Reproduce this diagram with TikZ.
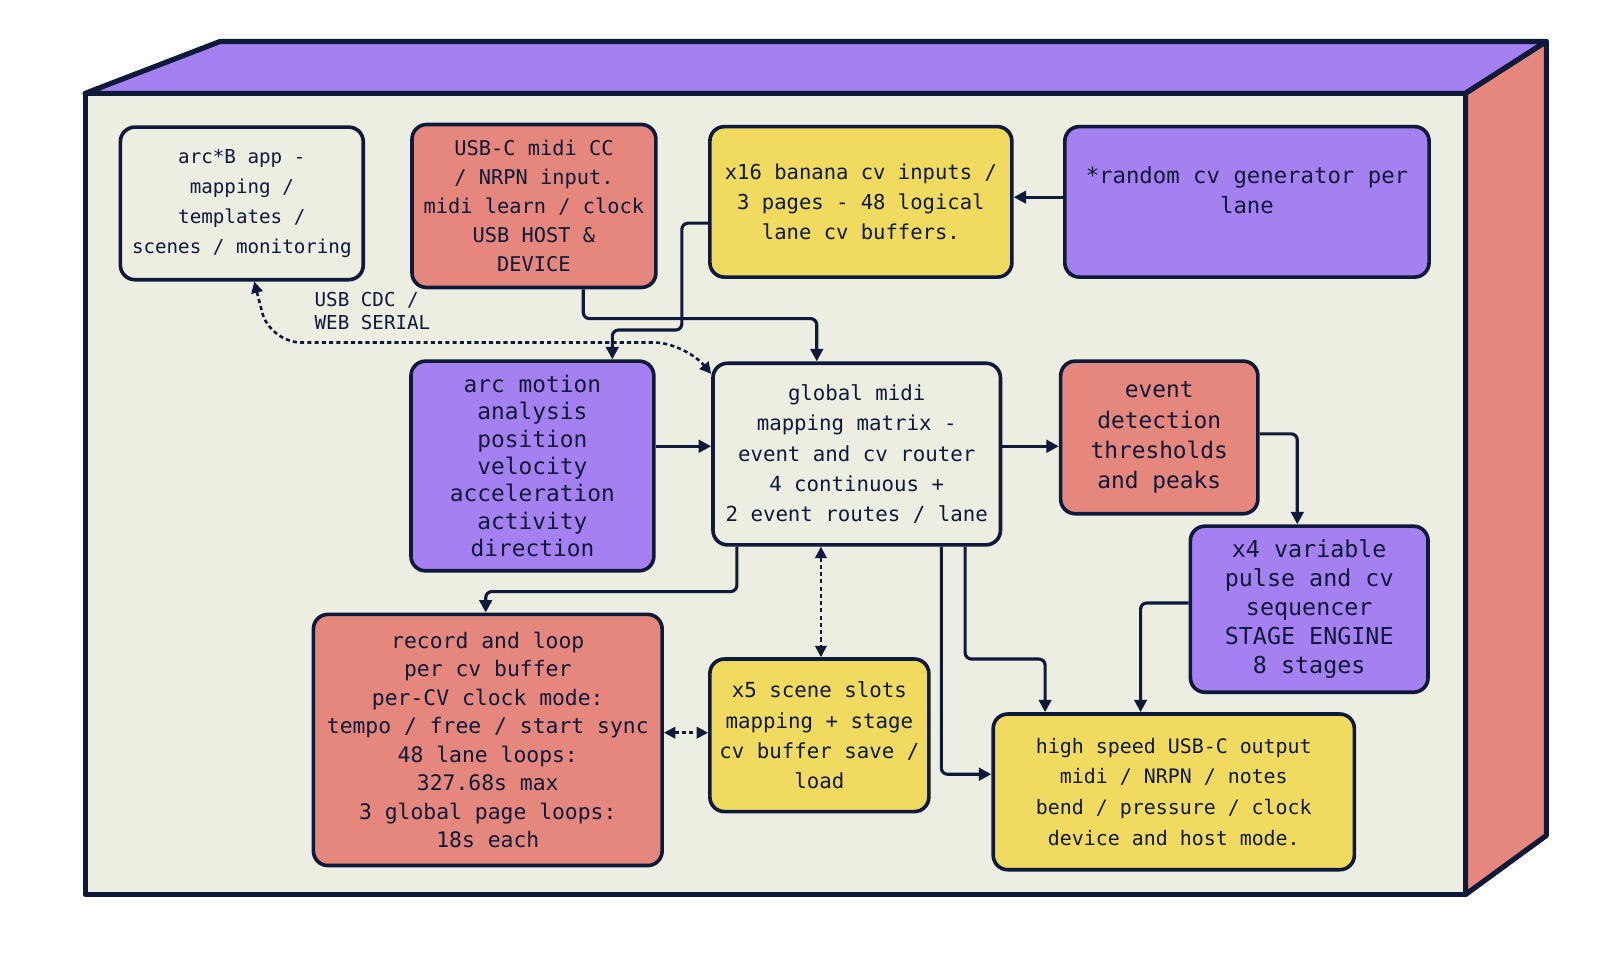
\documentclass[tikz,border=0pt]{standalone}
\usepackage{fontspec}
\setmainfont{DejaVu Sans Mono}
\usetikzlibrary{arrows.meta}
\definecolor{ink}{HTML}{0F1A3A}
\definecolor{bgc}{HTML}{ECEEE2}
\definecolor{pur}{HTML}{A580F0}
\definecolor{redc}{HTML}{E5877C}
\definecolor{yel}{HTML}{F0DA60}
\newcommand{\fs}[2]{\fontsize{#1}{#2}\selectfont}
\begin{document}
\begin{tikzpicture}[x=1pt,y=-1pt,
  box/.style={draw=ink,line width=3.5pt,rounded corners=14pt,align=center,inner sep=2pt,text=ink},
  arr/.style={draw=ink,line width=3pt,rounded corners=6pt,-{Triangle[length=12pt,width=12pt]}},
  darr/.style={draw=ink,line width=2.5pt,dash pattern=on 4pt off 3pt,{Triangle[length=11pt,width=11pt]}-{Triangle[length=11pt,width=11pt]}}]
\useasboundingbox (0,0) rectangle (1560,936);
% 3D box
\fill[pur,draw=ink,line width=5pt,line join=round] (82,90) -- (212,40) -- (1490,40) -- (1412,90) -- cycle;
\fill[redc,draw=ink,line width=5pt,line join=round] (1412,90) -- (1490,40) -- (1490,805) -- (1412,862) -- cycle;
\fill[bgc,draw=ink,line width=5pt,line join=round] (82,90) rectangle (1412,862);
% nodes
\node[box,fill=bgc,minimum width=234pt,minimum height=147pt,font=\fs{18.5}{29}] (app) at (233,196) {arc*B app -\\mapping /\\templates /\\scenes / monitoring};
\node[box,fill=redc,minimum width=235pt,minimum height=157pt,font=\fs{19.6}{28}] (usbc) at (514.5,198.5) {USB-C midi CC\\/ NRPN input.\\midi learn / clock\\USB HOST \&\\DEVICE};
\node[box,fill=yel,minimum width=291pt,minimum height=145pt,font=\fs{19.8}{29}] (banana) at (829.5,194.5) {x16 banana cv inputs /\\3 pages - 48 logical\\lane cv buffers.};
\node[box,fill=pur,minimum width=351pt,minimum height=145pt,font=\fs{21.5}{29}] (random) at (1201.5,194.5) {*random cv generator per\\lane\\[-6pt]};
\node[box,fill=pur,minimum width=234pt,minimum height=202pt,font=\fs{22}{26.3}] (arcm) at (513,449) {arc motion\\analysis\\position\\velocity\\acceleration\\activity\\direction};
\node[box,fill=bgc,minimum width=277pt,minimum height=175pt,font=\fs{20}{29}] (glob) at (825.5,437.5) {global midi\\mapping matrix -\\event and cv router\\4 continuous +\\2 event routes / lane};
\node[box,fill=redc,minimum width=190pt,minimum height=147pt,font=\fs{22}{29}] (event) at (1117,421.5) {event\\detection\\thresholds\\and peaks};
\node[box,fill=pur,minimum width=229pt,minimum height=160pt,font=\fs{22.5}{28}] (x4) at (1261.5,587) {x4 variable\\pulse and cv\\sequencer\\STAGE ENGINE\\8 stages};
\node[box,fill=redc,minimum width=336pt,minimum height=242pt,font=\fs{20.6}{27.5}] (rec) at (470,713) {record and loop\\per cv buffer\\per-CV clock mode:\\tempo / free / start sync\\48 lane loops:\\327.68s max\\3 global page loops:\\18s each};
\node[box,fill=yel,minimum width=211pt,minimum height=147pt,font=\fs{20}{29}] (scene) at (789.5,708.5) {x5 scene slots\\mapping + stage\\cv buffer save /\\load};
\node[box,fill=yel,minimum width=348pt,minimum height=150pt,font=\fs{19.2}{29.5}] (high) at (1131,763) {high speed USB-C output\\midi / NRPN / notes\\bend / pressure / clock\\device and host mode.};
\node[align=left,anchor=north west,text=ink,font=\fs{18.5}{23},inner sep=0pt] (lbl) at (303,281) {USB CDC /\\WEB SERIAL};
% connectors
\draw[arr] (random.west |- 0,190) -- (banana.east |- 0,190);
\draw[arr] (banana.west |- 0,215) -- (657,215) -- (657,318) -- (590,318) -- (arcm.north -| 590,0);
\draw[arr] (usbc.south -| 562,0) -- (562,307) -- (787,307) -- (glob.north -| 787,0);
\draw[darr,rounded corners=30pt] (app.south -| 245,0) -- (260,330) -- (660,330) -- ([yshift=-12pt]glob.north west);
\draw[arr] (arcm.east |- 0,430) -- (glob.west |- 0,430);
\draw[arr] (glob.east |- 0,430) -- (event.west |- 0,430);
\draw[arr] (event.east |- 0,418) -- (1250,418) -- (x4.north -| 1250,0);
\draw[arr] (glob.south -| 710,0) -- (710,570) -- (468,570) -- (rec.north -| 468,0);
\draw[darr] (glob.south -| 791,0) -- (scene.north -| 791,0);
\draw[darr] (rec.east |- 0,706) -- (scene.west |- 0,706);
\draw[arr] (glob.south -| 930,0) -- (930,635) -- (1007,635) -- (high.north -| 1007,0);
\draw[arr] (glob.south -| 907,0) -- (907,746) -- (high.west |- 0,746);
\draw[arr] (x4.west |- 0,581) -- (1099,581) -- (high.north -| 1099,0);
\end{tikzpicture}
\end{document}
